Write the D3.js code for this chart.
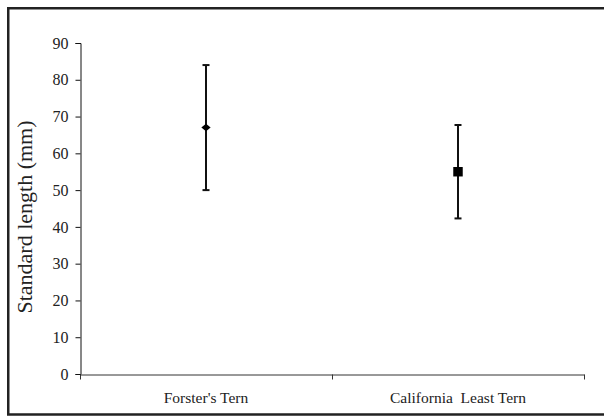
<!DOCTYPE html>
<html>
<head>
<meta charset="utf-8">
<script src="https://cdn.jsdelivr.net/npm/d3@7"></script>
<style>
  body { margin: 0; background: #fff; overflow: hidden; }
  svg { display: block; }
  text { font-family: "Liberation Serif", "Times New Roman", serif; fill: #222; }
</style>
</head>
<body>
<script>
// chart data
var species = ["Forster's Tern", "California  Least Tern"];
var means = [67, 55];
var errors = [17, 12.7];
var markers = ["diamond", "square"];
var yTicks = [0, 10, 20, 30, 40, 50, 60, 70, 80, 90];

var W = 604;
var H = 416;
var SERIF = "'Liberation Serif', 'Times New Roman', serif";

function main() {
  var svg = d3.select("body").append("svg")
    .attr("width", W)
    .attr("height", H);

  // outer frame: only left, top and bottom edges show (right edge is cut off)
  svg.append("path")
    .attr("d", "M" + W + ",8.25 H8.25 V414.5 H" + W)
    .style("fill", "none")
    .style("stroke", "#222")
    .style("stroke-width", 2.5);

  var xScale = d3.scaleBand()
    .domain(species)
    .range([80, 584]);
  var yScale = d3.scaleLinear()
    .domain([0, 90])
    .range([374, 43]);

  // y axis
  var yAxis = d3.axisLeft(yScale)
    .tickValues(yTicks)
    .tickSize(5)
    .tickPadding(7);
  var gy = svg.append("g")
    .attr("transform", "translate(80.5,0)")
    .attr("font-family", SERIF)
    .call(yAxis);
  gy.select(".domain").attr("stroke", "#111");
  gy.selectAll(".tick line").attr("stroke", "#111");
  gy.selectAll("text")
    .style("font-size", "16px")
    .attr("fill", "#222");

  // x axis: ticks at band edges
  var xAxis = d3.axisBottom(xScale).tickSize(0).tickPadding(17);
  var gx = svg.append("g")
    .attr("transform", "translate(0,374.5)")
    .attr("font-family", SERIF)
    .call(xAxis);
  gx.select(".domain").attr("stroke", "#333");
  gx.selectAll("text")
    .style("font-size", "15.5px")
    .style("white-space", "pre")
    .attr("fill", "#222");
  var edges = [xScale.range()[0]].concat(species.map(function(d) {
    return xScale(d) + xScale.bandwidth();
  }));
  gx.selectAll(".edge")
    .data(edges)
    .enter()
    .append("line")
    .attr("class", "edge")
    .attr("x1", function(d) { return Math.round(d) + 0.5; })
    .attr("x2", function(d) { return Math.round(d) + 0.5; })
    .attr("y1", 0)
    .attr("y2", 5)
    .attr("stroke", "#333");

  // y axis title
  svg.append("text")
    .attr("transform", "translate(32,217) rotate(-90)")
    .attr("text-anchor", "middle")
    .style("font-size", "22px")
    .text("Standard length (mm)");

  // error bars
  var cx = function(i) { return xScale(species[i]) + xScale.bandwidth() / 2; };
  var bars = svg.selectAll(".err")
    .data(means)
    .enter()
    .append("g")
    .attr("class", "err");
  bars.append("line")
    .attr("x1", function(d, i) { return cx(i); })
    .attr("x2", function(d, i) { return cx(i); })
    .attr("y1", function(d, i) { return yScale(d + errors[i]); })
    .attr("y2", function(d, i) { return yScale(d - errors[i]); })
    .attr("stroke", "#111")
    .attr("stroke-width", 2);
  [1, -1].forEach(function(s) {
    bars.append("line")
      .attr("x1", function(d, i) { return cx(i) - 3.5; })
      .attr("x2", function(d, i) { return cx(i) + 3.5; })
      .attr("y1", function(d, i) { return yScale(d + s * errors[i]); })
      .attr("y2", function(d, i) { return yScale(d + s * errors[i]); })
      .attr("stroke", "#111")
      .attr("stroke-width", 2);
  });

  // markers
  var sym = { diamond: d3.symbolDiamond2, square: d3.symbolSquare };
  var size = { diamond: 55, square: 90 };
  svg.selectAll(".pt")
    .data(means)
    .enter()
    .append("path")
    .attr("class", "pt")
    .attr("d", function(d, i) {
      return d3.symbol().type(sym[markers[i]]).size(size[markers[i]])();
    })
    .attr("transform", function(d, i) {
      var sy = markers[i] == "diamond" ? 0.8 : 1;
      return "translate(" + cx(i) + "," + yScale(d) + ") scale(1," + sy + ")";
    })
    .attr("fill", "#000");
}

main();
</script>
</body>
</html>
